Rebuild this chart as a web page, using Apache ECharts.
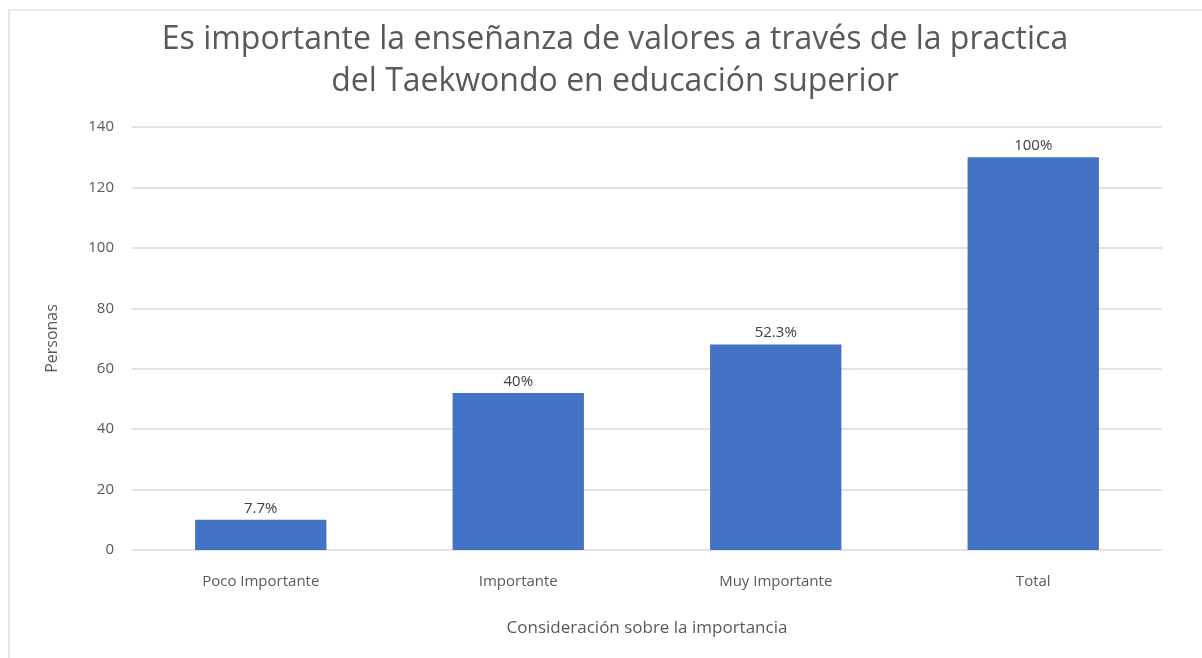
<!DOCTYPE html>
<html>
<head>
<meta charset="utf-8">
<script src="https://cdn.jsdelivr.net/npm/echarts@6/dist/echarts.min.js"></script>
<style>
  html, body { margin: 0; padding: 0; background: #fff; }
  #frame { position: absolute; left: 8px; top: 9px; width: 1200px; height: 660px; border-left: 2px solid #e6e6e6; border-top: 2px solid #ececec; }
  #chart { position: absolute; left: 0; top: 0; width: 1202px; height: 658px; }
</style>
</head>
<body>
<div id="frame"></div>
<div id="chart"></div>
<script>
const categories = ["Poco Importante", "Importante", "Muy Importante", "Total"];
const personas = [10, 52, 68, 130];
const percentLabels = ["7.7%", "40%", "52.3%", "100%"];
const yTicks = [0, 20, 40, 60, 80, 100, 120, 140];

const chart = echarts.init(document.getElementById("chart"));

const option = {
  animation: false,
  textStyle: { fontFamily: "Open Sans" },
  title: {
    text: "Es importante la enseñanza de valores a través de la practica\ndel Taekwondo en educación superior",
    left: 610,
    textAlign: "center",
    top: 14,
    textStyle: {
      fontFamily: "Open Sans",
      fontSize: 32,
      fontWeight: "normal",
      color: "#595959",
      lineHeight: 42
    }
  },
  grid: {
    left: 132,
    right: 40,
    top: 127,
    bottom: 108,
    containLabel: false
  },
  xAxis: {
    type: "category",
    data: categories,
    name: "Consideración sobre la importancia",
    nameLocation: "middle",
    nameGap: 70,
    nameTextStyle: { fontSize: 17, color: "#595959" },
    axisLine: { show: false },
    axisTick: { show: false },
    axisLabel: { fontSize: 15, color: "#595959", margin: 24 }
  },
  yAxis: {
    type: "value",
    min: yTicks[0],
    max: yTicks[yTicks.length - 1],
    interval: 20,
    name: "Personas",
    nameLocation: "middle",
    nameGap: 72,
    nameTextStyle: { fontSize: 16, color: "#595959" },
    axisLine: { show: false },
    axisTick: { show: false },
    axisLabel: { fontSize: 15, color: "#595959", margin: 18 },
    splitLine: { lineStyle: { color: "#e3e3e3", width: 2 } }
  },
  series: [
    {
      type: "bar",
      data: personas,
      barWidth: "51%",
      itemStyle: { color: "#4472C4" },
      label: {
        show: true,
        position: "top",
        distance: 4,
        fontSize: 15,
        color: "#404040",
        formatter: p => percentLabels[p.dataIndex]
      }
    }
  ]
};

chart.setOption(option);
</script>
</body>
</html>
